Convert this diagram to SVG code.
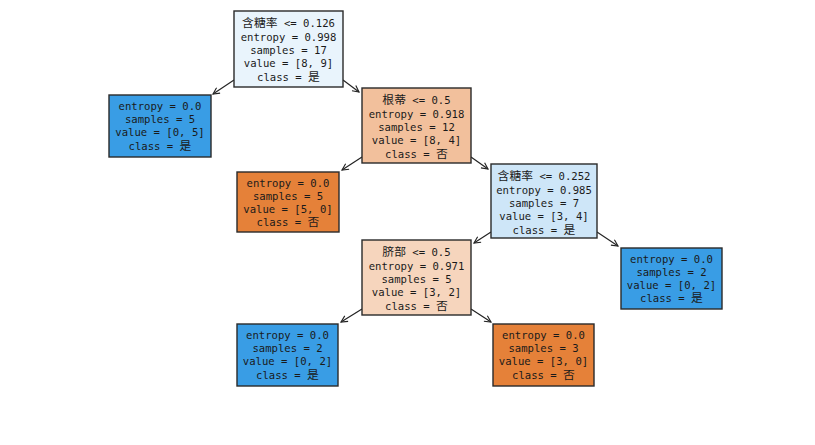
<svg xmlns="http://www.w3.org/2000/svg" width="815" height="445" viewBox="0 0 815 445">
<style>
.box{stroke:#2a2a2a;stroke-width:1.4}
.t{font-family:"DejaVu Sans Mono","Liberation Mono","Noto Sans CJK SC",monospace;font-size:10.6px;fill:#1a1a1a;text-anchor:middle}
.c{font-family:"Noto Sans CJK SC",sans-serif;font-size:11.8px}
.e{stroke:#222;stroke-width:1.2;fill:none;marker-end:url(#ah)}
</style>
<defs>
<marker id="ah" viewBox="0 0 10 10" refX="9" refY="5" markerWidth="8" markerHeight="8" markerUnits="userSpaceOnUse" orient="auto">
<path d="M1,1 L9,5 L1,9" fill="none" stroke="#222" stroke-width="1.4"/>
</marker>
</defs>
<rect width="815" height="445" fill="#ffffff"/>
<g id="edges">
<line class="e" x1="234" y1="80" x2="213" y2="94"/>
<line class="e" x1="343" y1="80" x2="359" y2="92"/>
<line class="e" x1="362" y1="157" x2="342" y2="170"/>
<line class="e" x1="471" y1="157" x2="488" y2="169"/>
<line class="e" x1="491" y1="232" x2="474" y2="243"/>
<line class="e" x1="597" y1="232" x2="618" y2="246"/>
<line class="e" x1="362" y1="309" x2="341" y2="322"/>
<line class="e" x1="471" y1="309" x2="491" y2="322"/>
</g>
<g id="n0">
<rect class="box" x="234" y="11" width="109" height="76" fill="#e9f4fc"/>
<text class="t" x="288.5" y="27"><tspan class="c">含糖率</tspan> &lt;= 0.126</text>
<text class="t" x="288.5" y="40.5">entropy = 0.998</text>
<text class="t" x="288.5" y="54">samples = 17</text>
<text class="t" x="288.5" y="67">value = [8, 9]</text>
<text class="t" x="288.5" y="80.5">class = <tspan class="c">是</tspan></text>
</g>
<g id="n1">
<rect class="box" x="109" y="95" width="102" height="62" fill="#399de5"/>
<text class="t" x="160" y="110">entropy = 0.0</text>
<text class="t" x="160" y="123">samples = 5</text>
<text class="t" x="160" y="136">value = [0, 5]</text>
<text class="t" x="160" y="149.5">class = <tspan class="c">是</tspan></text>
</g>
<g id="n2">
<rect class="box" x="362" y="88" width="109" height="75" fill="#f2c09c"/>
<text class="t" x="416.5" y="104"><tspan class="c">根蒂</tspan> &lt;= 0.5</text>
<text class="t" x="416.5" y="117.5">entropy = 0.918</text>
<text class="t" x="416.5" y="131">samples = 12</text>
<text class="t" x="416.5" y="144">value = [8, 4]</text>
<text class="t" x="416.5" y="157.5">class = <tspan class="c">否</tspan></text>
</g>
<g id="n3">
<rect class="box" x="237" y="172" width="102" height="60" fill="#e58139"/>
<text class="t" x="288" y="186.5">entropy = 0.0</text>
<text class="t" x="288" y="199.5">samples = 5</text>
<text class="t" x="288" y="212.5">value = [5, 0]</text>
<text class="t" x="288" y="226">class = <tspan class="c">否</tspan></text>
</g>
<g id="n4">
<rect class="box" x="491" y="164" width="106" height="74" fill="#cee6f8"/>
<text class="t" x="544" y="180"><tspan class="c">含糖率</tspan> &lt;= 0.252</text>
<text class="t" x="544" y="193.5">entropy = 0.985</text>
<text class="t" x="544" y="207">samples = 7</text>
<text class="t" x="544" y="220">value = [3, 4]</text>
<text class="t" x="544" y="233.5">class = <tspan class="c">是</tspan></text>
</g>
<g id="n5">
<rect class="box" x="362" y="240" width="109" height="75" fill="#f6d5bd"/>
<text class="t" x="416.5" y="256"><tspan class="c">脐部</tspan> &lt;= 0.5</text>
<text class="t" x="416.5" y="269.5">entropy = 0.971</text>
<text class="t" x="416.5" y="283">samples = 5</text>
<text class="t" x="416.5" y="296">value = [3, 2]</text>
<text class="t" x="416.5" y="309.5">class = <tspan class="c">否</tspan></text>
</g>
<g id="n6">
<rect class="box" x="621" y="248" width="101" height="61" fill="#399de5"/>
<text class="t" x="671.5" y="262.5">entropy = 0.0</text>
<text class="t" x="671.5" y="275.5">samples = 2</text>
<text class="t" x="671.5" y="288.5">value = [0, 2]</text>
<text class="t" x="671.5" y="302">class = <tspan class="c">是</tspan></text>
</g>
<g id="n7">
<rect class="box" x="237" y="324" width="101" height="62" fill="#399de5"/>
<text class="t" x="287.5" y="339">entropy = 0.0</text>
<text class="t" x="287.5" y="352">samples = 2</text>
<text class="t" x="287.5" y="365">value = [0, 2]</text>
<text class="t" x="287.5" y="378.5">class = <tspan class="c">是</tspan></text>
</g>
<g id="n8">
<rect class="box" x="493" y="324" width="101" height="62" fill="#e58139"/>
<text class="t" x="543.5" y="339">entropy = 0.0</text>
<text class="t" x="543.5" y="352">samples = 3</text>
<text class="t" x="543.5" y="365">value = [3, 0]</text>
<text class="t" x="543.5" y="378.5">class = <tspan class="c">否</tspan></text>
</g>
</svg>
